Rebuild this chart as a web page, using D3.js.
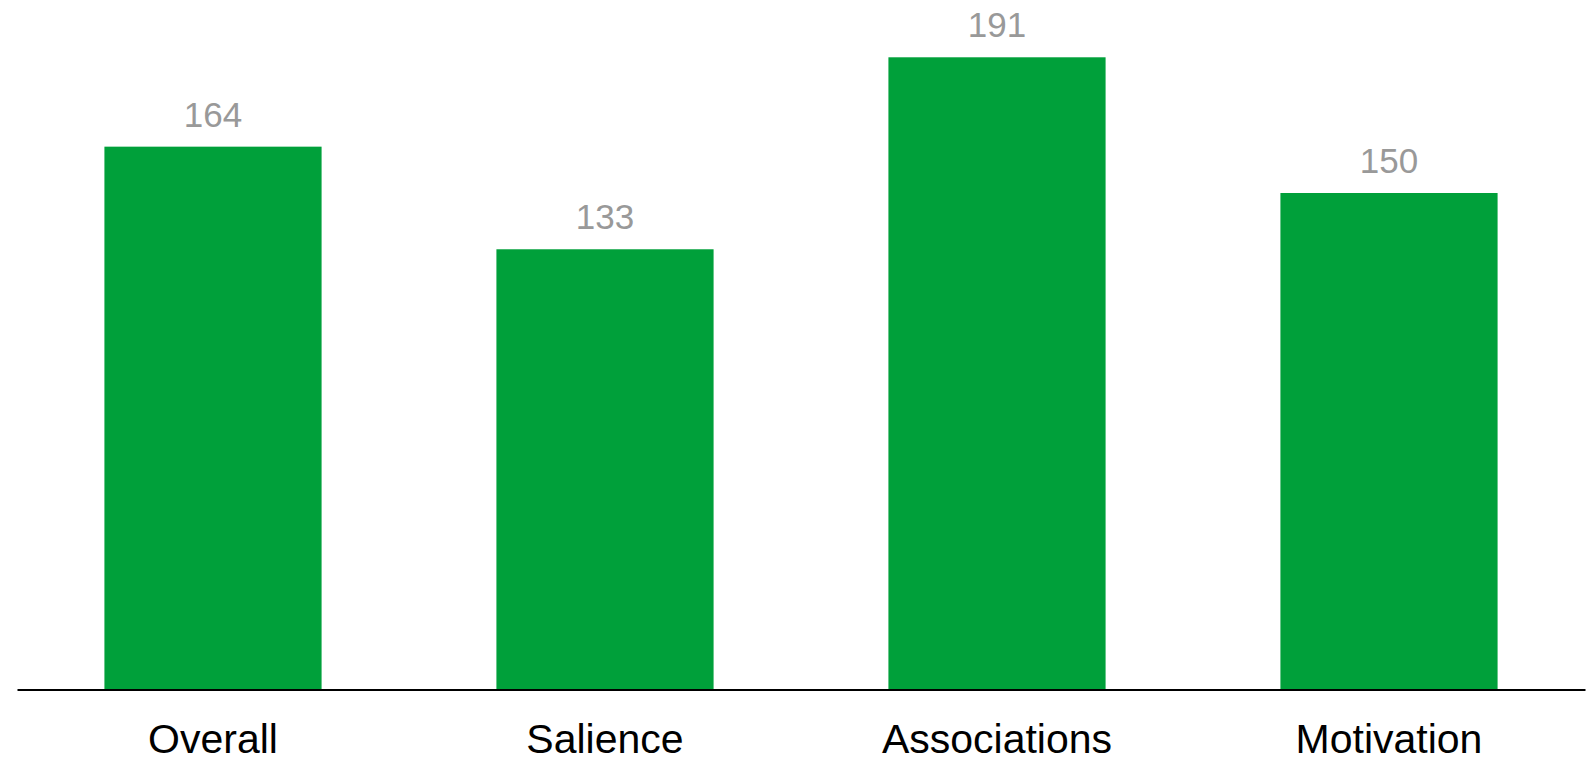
<!DOCTYPE html>
<html>
<head>
<meta charset="utf-8">
<script src="https://cdn.jsdelivr.net/npm/d3@7"></script>
<style>
  html, body { margin: 0; padding: 0; background: #fff; }
  svg { display: block; font-family: "Liberation Sans", Arial, sans-serif; }
</style>
</head>
<body>
<svg id="chart" width="1591" height="762"></svg>
<script>
// Index scores per dimension
const categories = ["Overall", "Salience", "Associations", "Motivation"];
const values = [164, 133, 191, 150];

const svg = d3.select("#chart");
const margin = { left: 17, right: 6, top: 27.5, bottom: 72.5 };
const width = 1591, height = 762;
const baseY = height - margin.bottom;

const x = d3.scaleBand()
  .domain(categories)
  .range([margin.left, width - margin.right])
  .paddingInner(0.446)
  .paddingOuter(0.223);

const y = d3.scaleLinear()
  .domain([0, 200])
  .range([baseY, margin.top]);

const data = categories.map((c, i) => ({ cat: c, val: values[i] }));

svg.append("g")
  .selectAll("rect")
  .data(data)
  .join("rect")
  .attr("x", d => x(d.cat))
  .attr("y", d => y(d.val))
  .attr("width", x.bandwidth())
  .attr("height", d => y(0) - y(d.val))
  .attr("fill", "#00a03a");

// value labels above bars
svg.append("g")
  .selectAll("text")
  .data(data)
  .join("text")
  .attr("x", d => x(d.cat) + x.bandwidth() / 2)
  .attr("y", d => y(d.val) - 20)
  .attr("text-anchor", "middle")
  .attr("font-size", 35)
  .attr("fill", "#999999")
  .text(d => d.val);

// category axis
const axis = svg.append("g")
  .attr("transform", `translate(0,${baseY})`)
  .call(d3.axisBottom(x).tickSize(0).tickPadding(0));
axis.select(".domain")
  .attr("stroke", "#000")
  .attr("stroke-width", 2);
axis.selectAll(".tick text")
  .attr("dy", 0)
  .attr("y", 63)
  .attr("font-size", 41)
  .attr("font-family", "'Liberation Sans', Arial, sans-serif")
  .attr("fill", "#000");
</script>
</body>
</html>
